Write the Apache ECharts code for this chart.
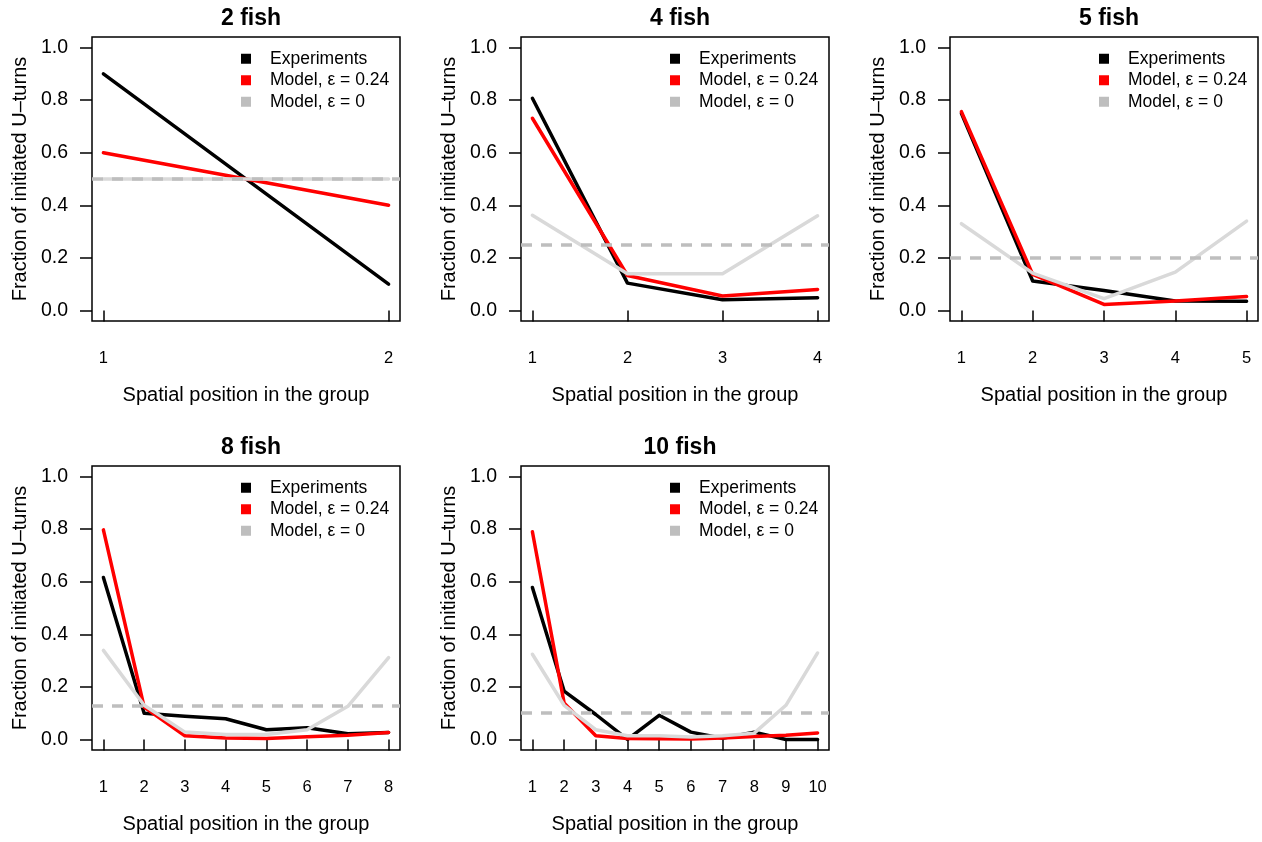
<!DOCTYPE html>
<html>
<head>
<meta charset="utf-8">
<script src="https://cdn.jsdelivr.net/npm/echarts@6/dist/echarts.min.js"></script>
<style>html,body{margin:0;padding:0;background:#fff}#c{width:1262px;height:842px}</style>
</head>
<body>
<div id="c"></div>
<script>
// ---- data ----
const panelTitles = ['2 fish', '4 fish', '5 fish', '8 fish', '10 fish'];
const groupSizes = [2, 4, 5, 8, 10];
const yTicks = [0, 0.2, 0.4, 0.6, 0.8, 1.0];
const yTickLabels = ['0.0', '0.2', '0.4', '0.6', '0.8', '1.0'];
const seriesNames = ['Experiments', 'Model, \u03b5 = 0.24', 'Model, \u03b5 = 0'];

const exp2  = [0.90, 0.10];
const m24_2 = [0.60, 0.40];
const m0_2  = [0.50, 0.50];

const exp4  = [0.807, 0.104, 0.041, 0.048];
const m24_4 = [0.731, 0.133, 0.055, 0.080];
const m0_4  = [0.362, 0.140, 0.140, 0.360];

const exp5  = [0.750, 0.112, 0.076, 0.036, 0.035];
const m24_5 = [0.756, 0.137, 0.023, 0.036, 0.053];
const m0_5  = [0.330, 0.142, 0.045, 0.146, 0.340];

const exp8  = [0.616, 0.100, 0.088, 0.079, 0.037, 0.045, 0.022, 0.027];
const m24_8 = [0.797, 0.123, 0.014, 0.006, 0.004, 0.010, 0.016, 0.027];
const m0_8  = [0.339, 0.130, 0.028, 0.019, 0.019, 0.037, 0.126, 0.311];

const exp10  = [0.578, 0.184, 0.095, 0.000, 0.092, 0.028, 0.005, 0.028, 0.000, 0.000];
const m24_10 = [0.790, 0.139, 0.014, 0.004, 0.003, 0.002, 0.006, 0.011, 0.016, 0.025];
const m0_10  = [0.324, 0.130, 0.037, 0.014, 0.014, 0.009, 0.014, 0.024, 0.130, 0.329];

const uniformLevel = [0.5, 0.25, 0.2, 0.125, 0.1];

const expAll = [exp2, exp4, exp5, exp8, exp10];
const m24All = [m24_2, m24_4, m24_5, m24_8, m24_10];
const m0All  = [m0_2, m0_4, m0_5, m0_8, m0_10];

// ---- layout ----
const FONT = '"Liberation Sans", Arial, Helvetica, sans-serif';
const boxLeft = [92, 521, 950, 92, 521];
const boxTop = [37, 37, 37, 466, 466];
const boxW = 308, boxH = 284;
const LW = 3.5;
const colors = { exp: '#000000', m24: '#ff0000', m0: '#d9d9d9', dash: '#bebebe' };

const grids = [], xAxes = [], yAxes = [], series = [], titles = [], legends = [];

groupSizes.forEach((n, i) => {
  const positions = [];
  for (let k = 1; k <= n; k++) positions.push(k);
  const pad = 0.04 * (n - 1);
  grids.push({ left: boxLeft[i], top: boxTop[i], width: boxW, height: boxH,
    show: true, borderColor: '#000', borderWidth: 1.5, backgroundColor: 'transparent' });
  xAxes.push({
    type: 'value', gridIndex: i, min: 1 - pad, max: n + pad,
    axisLine: { show: false },
    splitLine: { show: false },
    axisTick: { show: true, inside: false, length: 11, customValues: positions,
      lineStyle: { color: '#000', width: 1.5 } },
    axisLabel: { show: true, customValues: positions, margin: 29, color: '#000',
      fontSize: 16.5, fontFamily: FONT, formatter: v => String(Math.round(v)) },
    name: 'Spatial position in the group', nameLocation: 'middle', nameGap: 64,
    nameTextStyle: { fontSize: 20, fontFamily: FONT, color: '#000' }
  });
  yAxes.push({
    type: 'value', gridIndex: i, min: -0.04, max: 1.04,
    axisLine: { show: false },
    splitLine: { show: false },
    axisTick: { show: true, inside: false, length: 12, customValues: yTicks,
      lineStyle: { color: '#000', width: 1.5 } },
    axisLabel: { show: true, customValues: yTicks, margin: 24, color: '#000',
      fontSize: 19.5, fontFamily: FONT,
      formatter: v => yTickLabels[yTicks.findIndex(t => Math.abs(t - v) < 1e-6)] || '' },
    name: 'Fraction of initiated U\u2013turns', nameLocation: 'middle', nameGap: 62, nameRotate: 90,
    nameTextStyle: { fontSize: 20, fontFamily: FONT, color: '#000' }
  });
  titles.push({ text: panelTitles[i], left: boxLeft[i] + boxW / 2, top: boxTop[i] - 35, textAlign: 'center',
    textStyle: { fontSize: 23, fontWeight: 'bold', fontFamily: FONT, color: '#000' } });
  legends.push({
    orient: 'vertical', left: boxLeft[i] + 149, top: boxTop[i] + 11, padding: 0, itemGap: 0,
    icon: 'rect', itemWidth: 10, itemHeight: 10, selectedMode: false,
    textStyle: { fontSize: 17.5, fontFamily: FONT, color: '#000', lineHeight: 21.5, padding: [0, 0, 0, 14] },
    data: [
      { name: seriesNames[0], itemStyle: { color: colors.exp } },
      { name: seriesNames[1], itemStyle: { color: colors.m24 } },
      { name: seriesNames[2], itemStyle: { color: colors.dash } }
    ]
  });
  const mk = (vals) => vals.map((v, k) => [positions[k], v]);
  const base = { type: 'line', xAxisIndex: i, yAxisIndex: i, symbol: 'none', silent: true, animation: false };
  series.push(Object.assign({}, base, { name: seriesNames[0], data: mk(expAll[i]), z: 2,
    itemStyle: { color: colors.exp }, lineStyle: { color: colors.exp, width: LW, cap: 'round', join: 'round' } }));
  series.push(Object.assign({}, base, { name: seriesNames[1], data: mk(m24All[i]), z: 3,
    itemStyle: { color: colors.m24 }, lineStyle: { color: colors.m24, width: LW, cap: 'round', join: 'round' } }));
  series.push(Object.assign({}, base, { name: seriesNames[2], data: mk(m0All[i]), z: 4,
    itemStyle: { color: colors.m0 }, lineStyle: { color: colors.m0, width: LW, cap: 'round', join: 'round' },
    markLine: { silent: true, symbol: 'none', animation: false, label: { show: false },
      lineStyle: { color: colors.dash, width: LW, type: [11, 9] },
      emphasis: { disabled: true },
      data: [{ yAxis: uniformLevel[i] }] } }));
});

const chart = echarts.init(document.getElementById('c'), null, { renderer: 'canvas' });
chart.setOption({
  backgroundColor: '#fff',
  animation: false,
  textStyle: { fontFamily: FONT },
  title: titles,
  legend: legends,
  grid: grids,
  xAxis: xAxes,
  yAxis: yAxes,
  series: series
});
</script>
</body>
</html>
